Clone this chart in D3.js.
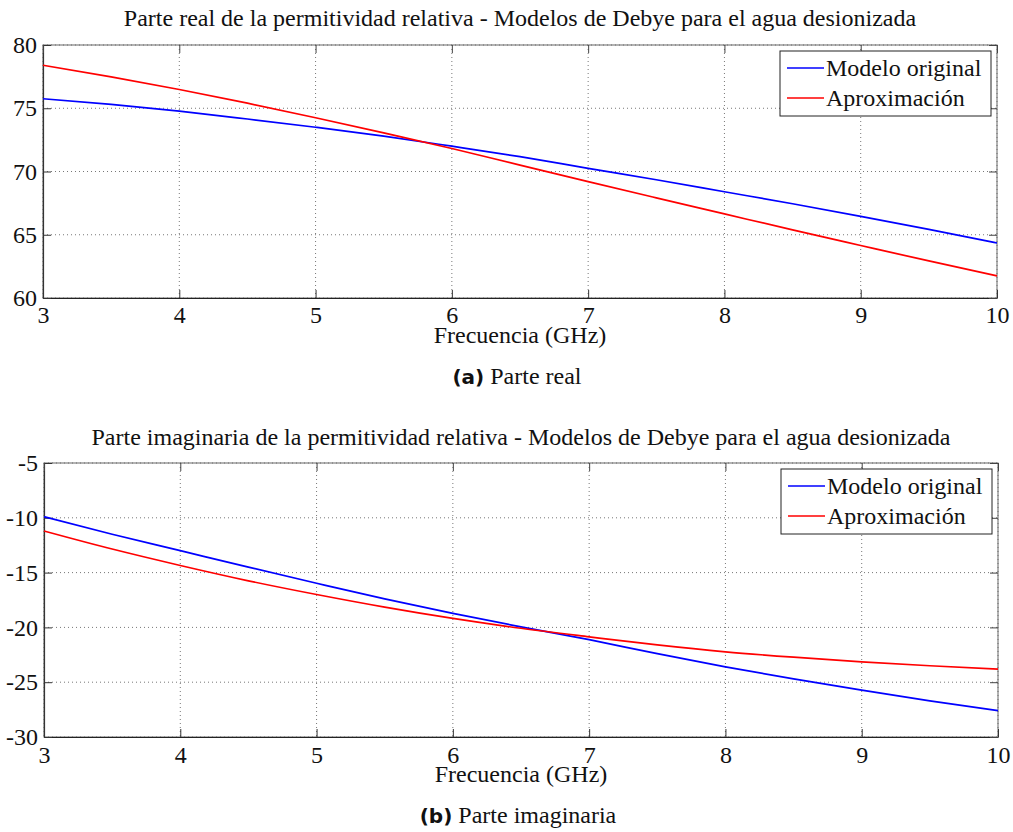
<!DOCTYPE html>
<html>
<head>
<meta charset="utf-8">
<script src="https://cdn.jsdelivr.net/npm/d3@7"></script>
<style>
  body { margin: 0; background: #ffffff; }
  svg text { font-family: "Liberation Serif", "DejaVu Serif", serif; fill: #111; }
  .tick text { font-family: "Liberation Serif", serif !important; font-size: 24px !important; }
</style>
</head>
<body>
<div id="chart-area"></div>
<script>
// frequency samples (GHz) and values
var freq = [3, 3.5, 4, 4.5, 5, 5.5, 6, 6.5, 7, 7.5, 8, 8.5, 9, 9.5, 10];
var realOriginal = [75.75, 75.3, 74.77, 74.15, 73.5, 72.8, 72.0, 71.17, 70.25, 69.35, 68.4, 67.45, 66.45, 65.42, 64.35];
var realAprox = [78.4, 77.48, 76.48, 75.4, 74.25, 73.05, 71.82, 70.5, 69.2, 67.92, 66.65, 65.38, 64.15, 62.93, 61.75];
var imagOriginal = [-9.9, -11.5, -13.0, -14.5, -15.97, -17.4, -18.72, -19.95, -21.12, -22.4, -23.6, -24.7, -25.72, -26.7, -27.6];
var imagAprox = [-11.2, -12.85, -14.35, -15.75, -17.0, -18.15, -19.18, -20.08, -20.86, -21.6, -22.23, -22.72, -23.14, -23.5, -23.8];

var freqTicks = [3, 4, 5, 6, 7, 8, 9, 10];
var realTicks = [60, 65, 70, 75, 80];
var imagTicks = [-30, -25, -20, -15, -10, -5];
var seriesNames = ["Modelo original", "Aproximación"];
var seriesColors = ["#0000ff", "#ff0000"];

var svg = d3
  .select("#chart-area")
  .append("svg")
  .attr("width", 1013)
  .attr("height", 832);

// plain hyphen minus like the original
function plainLabel(d) {
  return String(d);
}

function drawPanel(opt) {
  var x = d3.scaleLinear().domain([3, 10]).range([opt.left, opt.right]);
  var y = d3.scaleLinear().domain(opt.domain).range([opt.bottom, opt.top]);
  var g = svg.append("g");

  // dotted grid
  g.selectAll(".vgrid")
    .data(opt.xTicks)
    .enter()
    .append("line")
    .attr("x1", function (d) { return x(d); })
    .attr("x2", function (d) { return x(d); })
    .attr("y1", opt.top)
    .attr("y2", opt.bottom)
    .attr("stroke", "#777")
    .attr("stroke-width", 1)
    .attr("stroke-dasharray", "1,3");
  g.selectAll(".hgrid")
    .data(opt.yTicks)
    .enter()
    .append("line")
    .attr("x1", opt.left)
    .attr("x2", opt.right)
    .attr("y1", function (d) { return y(d); })
    .attr("y2", function (d) { return y(d); })
    .attr("stroke", "#777")
    .attr("stroke-width", 1)
    .attr("stroke-dasharray", "1,3");

  // box
  g.append("rect")
    .attr("x", opt.left)
    .attr("y", opt.top)
    .attr("width", opt.right - opt.left)
    .attr("height", opt.bottom - opt.top)
    .attr("fill", "none")
    .attr("stroke", "#666")
    .attr("stroke-width", 1);

  // axes with inward ticks on all four sides
  var xAxis = d3.axisBottom(x).tickValues(opt.xTicks).tickFormat(plainLabel)
    .tickSizeInner(-8).tickSizeOuter(0).tickPadding(opt.xPad);
  var gx = g.append("g").attr("transform", "translate(0," + opt.bottom + ")").call(xAxis);
  gx.attr("font-family", "Liberation Serif").attr("font-size", 24);
  gx.select(".domain").attr("stroke", "#222").attr("stroke-width", 1.2);
  gx.selectAll(".tick line").attr("stroke", "#333");
  gx.selectAll("text").attr("fill", "#111");

  var yAxis = d3.axisLeft(y).tickValues(opt.yTicks).tickFormat(plainLabel)
    .tickSizeInner(-8).tickSizeOuter(0).tickPadding(6);
  var gy = g.append("g").attr("transform", "translate(" + opt.left + ",0)").call(yAxis);
  gy.attr("font-family", "Liberation Serif").attr("font-size", 24);
  gy.select(".domain").attr("stroke", "#333").attr("stroke-width", 1.2);
  gy.selectAll(".tick line").attr("stroke", "#333");
  gy.selectAll("text").attr("fill", "#111");

  var gt = g.append("g").attr("transform", "translate(0," + opt.top + ")")
    .call(d3.axisTop(x).tickValues(opt.xTicks).tickSizeInner(-8).tickSizeOuter(0).tickFormat(""));
  gt.select(".domain").remove();
  gt.selectAll(".tick line").attr("stroke", "#444");
  var gr = g.append("g").attr("transform", "translate(" + opt.right + ",0)")
    .call(d3.axisRight(y).tickValues(opt.yTicks).tickSizeInner(-8).tickSizeOuter(0).tickFormat(""));
  gr.select(".domain").remove();
  gr.selectAll(".tick line").attr("stroke", "#444");

  // curves
  var line = d3.line()
    .x(function (d) { return x(d[0]); })
    .y(function (d) { return y(d[1]); })
    .curve(d3.curveMonotoneX);
  opt.series.forEach(function (s, i) {
    g.append("path")
      .datum(freq.map(function (f, k) { return [f, s[k]]; }))
      .attr("fill", "none")
      .attr("stroke", seriesColors[i])
      .attr("stroke-width", 1.7)
      .attr("d", line);
  });

  // legend
  var lg = g.append("g");
  lg.append("rect")
    .attr("x", opt.right - 217)
    .attr("y", opt.top + 6)
    .attr("width", 211)
    .attr("height", 65)
    .attr("fill", "#fff")
    .attr("stroke", "#222")
    .attr("stroke-width", 1);
  seriesNames.forEach(function (name, i) {
    var ly = opt.top + 23 + i * 30;
    lg.append("line")
      .attr("x1", opt.right - 210)
      .attr("x2", opt.right - 173)
      .attr("y1", ly)
      .attr("y2", ly)
      .attr("stroke", seriesColors[i])
      .attr("stroke-width", 1.7);
    lg.append("text")
      .attr("x", opt.right - 171)
      .attr("y", ly + 8)
      .style("font-size", "24px")
      .text(name);
  });

  // titles
  svg.append("text")
    .attr("x", (opt.left + opt.right) / 2)
    .attr("y", opt.titleY)
    .attr("text-anchor", "middle")
    .style("font-size", "24px")
    .text(opt.title);
  svg.append("text")
    .attr("x", (opt.left + opt.right) / 2)
    .attr("y", opt.bottom + 45)
    .attr("text-anchor", "middle")
    .style("font-size", "24px")
    .text("Frecuencia (GHz)");
  var cap = svg.append("text")
    .attr("x", (opt.left + opt.right) / 2 - 3)
    .attr("y", opt.bottom + 86)
    .attr("text-anchor", "middle")
    .style("font-size", "24px");
  cap.append("tspan")
    .style("font-family", "DejaVu Sans")
    .style("font-weight", "bold")
    .style("font-size", "20px")
    .text(opt.label);
  cap.append("tspan").text(" " + opt.caption);
}

drawPanel({
  left: 43, right: 997, top: 45, bottom: 298,
  domain: [60, 80], xTicks: freqTicks, yTicks: realTicks,
  series: [realOriginal, realAprox],
  titleY: 26, xPad: 8,
  title: "Parte real de la permitividad relativa - Modelos de Debye para el agua desionizada",
  label: "(a)", caption: "Parte real"
});

drawPanel({
  left: 44, right: 998, top: 463, bottom: 737,
  domain: [-30, -5], xTicks: freqTicks, yTicks: imagTicks,
  series: [imagOriginal, imagAprox],
  titleY: 445, xPad: 9,
  title: "Parte imaginaria de la permitividad relativa - Modelos de Debye para el agua desionizada",
  label: "(b)", caption: "Parte imaginaria"
});
</script>
</body>
</html>
